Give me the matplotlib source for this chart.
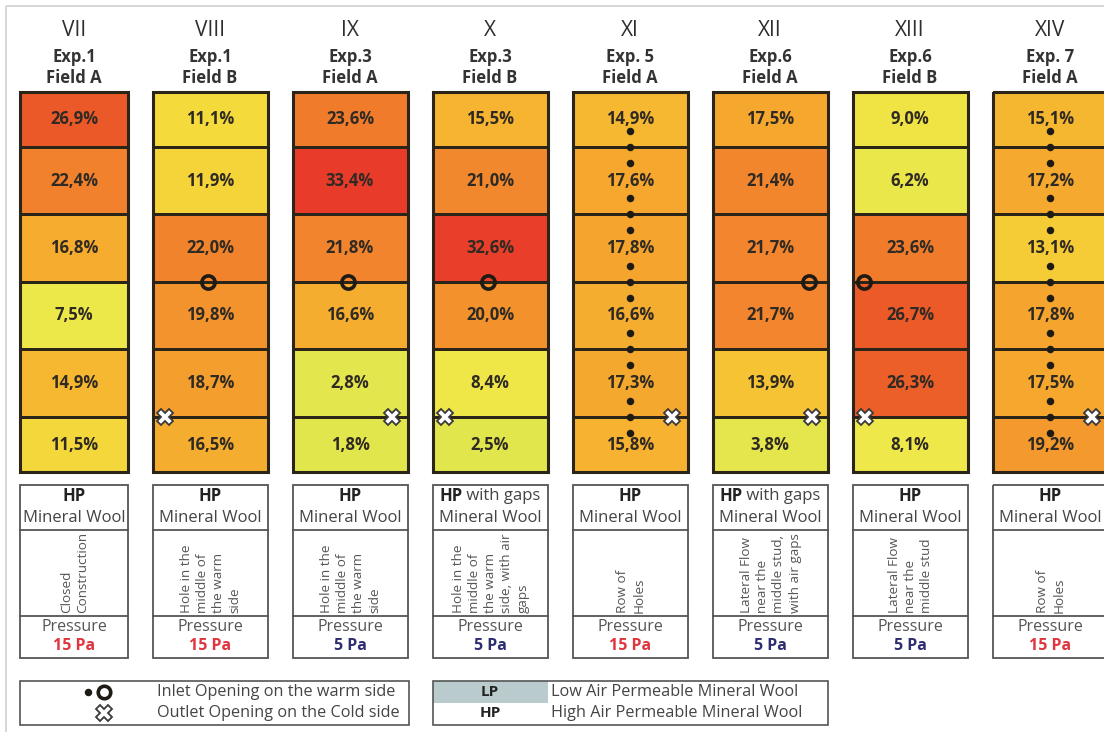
import matplotlib
matplotlib.use("Agg")
import matplotlib.pyplot as plt
import numpy as np
from matplotlib.colors import LinearSegmentedColormap
from matplotlib.patches import Rectangle

plt.rcParams['font.family'] = ['Open Sans', 'DejaVu Sans']

# ---- data -------------------------------------------------------------
numerals = ["VII", "VIII", "IX", "X", "XI", "XII", "XIII", "XIV"]
experiments = ["Exp.1", "Exp.1", "Exp.3", "Exp.3", "Exp. 5", "Exp.6", "Exp.6", "Exp. 7"]
fields = ["Field A", "Field B", "Field A", "Field B", "Field A", "Field A", "Field B", "Field A"]

# share of air flow per row (top to bottom), percent
shares = [
    [26.9, 22.4, 16.8, 7.5, 14.9, 11.5],
    [11.1, 11.9, 22.0, 19.8, 18.7, 16.5],
    [23.6, 33.4, 21.8, 16.6, 2.8, 1.8],
    [15.5, 21.0, 32.6, 20.0, 8.4, 2.5],
    [14.9, 17.6, 17.8, 16.6, 17.3, 15.8],
    [17.5, 21.4, 21.7, 21.7, 13.9, 3.8],
    [9.0, 6.2, 23.6, 26.7, 26.3, 8.1],
    [15.1, 17.2, 13.1, 17.8, 17.5, 19.2],
]

wool_with_gaps = [False, False, False, True, False, True, False, False]
setups = [
    "Closed\nConstruction",
    "Hole in the\nmiddle of\nthe warm\nside",
    "Hole in the\nmiddle of\nthe warm\nside",
    "Hole in the\nmiddle of\nthe warm\nside, with air\ngaps",
    "Row of\nHoles",
    "Lateral Flow\nnear the\nmiddle stud,\nwith air gaps",
    "Lateral Flow\nnear the\nmiddle stud",
    "Row of\nHoles",
]
pressures_pa = [15, 15, 5, 5, 15, 5, 5, 15]

# inlet on the warm side: None, single opening ('center'/'left'/'right') or a row of holes
inlets = [None, "center", "center", "center", "row", "right", "left", "row"]
# outlet on the cold side
outlets = [None, "left", "right", "left", "right", "right", "left", "right"]

# ---- layout -----------------------------------------------------------
W, H = 1104, 732
fig = plt.figure(figsize=(W / 100, H / 100), dpi=100)
ax = fig.add_axes([0, 0, 1, 1])
ax.set_xlim(0, W)
ax.set_ylim(H, 0)
ax.axis("off")

pitch = 140
col_w = 115
row_edges = np.array([92, 147, 214, 282, 349, 417, 472])
inlet_edge = 3
outlet_edge = 5

cmap = LinearSegmentedColormap.from_list(
    "flow",
    [(0 / 34, "#dde54e"), (8 / 34, "#eee84a"), (11 / 34, "#f4da3b"), (13 / 34, "#f5cd36"),
     (15 / 34, "#f6b730"), (18 / 34, "#f5a42e"), (21 / 34, "#f2882d"), (24 / 34, "#f07a2b"),
     (27 / 34, "#ec5828"), (34 / 34, "#e8392a")])

text_dark = "#2f2a24"
edge_dark = "#2b2418"
ink = "#1e1a14"

# outer frame of the page
ax.add_patch(Rectangle((6, 6), W + 20, H + 20, fill=False, ec="#cfcfcf", lw=1.2))

rnd = fig.canvas.get_renderer()

for i in range(len(numerals)):
    left = 13 + pitch * i
    right = left + col_w
    if i == 0:
        left = 20
    cx = 70 + pitch * i
    if i == 0:
        cx = (left + right) / 2

    # header
    ax.text(cx, 31, numerals[i], ha="center", va="center", fontsize=15, color="#2e2e2e")
    ax.text(cx, 57, experiments[i], ha="center", va="center", fontsize=12,
            fontweight="bold", color="#333333")
    ax.text(cx, 78, fields[i], ha="center", va="center", fontsize=12,
            fontweight="bold", color="#333333")

    # column of cells
    vals = np.array(shares[i])[:, None]
    ax.pcolormesh([left, right], row_edges, vals, cmap=cmap, vmin=0, vmax=34,
                  edgecolors=edge_dark, linewidth=1.0, zorder=1)
    ax.add_patch(Rectangle((left, row_edges[0]), right - left, row_edges[-1] - row_edges[0],
                           fill=False, ec=edge_dark, lw=2.2, zorder=2))
    for r, v in enumerate(shares[i]):
        yc = (row_edges[r] + row_edges[r + 1]) / 2
        ax.text(cx, yc, f"{v:.1f}%".replace(".", ","), ha="center", va="center",
                fontsize=12, fontweight="bold", color=text_dark, zorder=3)

    # inlet openings
    y_in = row_edges[inlet_edge]
    if inlets[i] == "row":
        ys = np.concatenate([[e - 16, e, e + 16] for e in row_edges[1:-1]])
        ax.plot(np.full(ys.shape, cx), ys, "o", ms=5.4, color=ink, mec="none", zorder=4)
    elif inlets[i] is not None:
        xi = {"center": cx - 2, "left": left + 11, "right": right - 19}[inlets[i]]
        ax.plot([xi], [y_in], "o", ms=9.5, mfc="none", mec=ink, mew=2.6, zorder=4)

    # outlet openings
    if outlets[i] is not None:
        xo = left + 12 if outlets[i] == "left" else right - 16
        ax.plot([xo], [row_edges[outlet_edge]], "X", ms=11.5, mfc="white", mec="#3a3a3a",
                mew=1.3, zorder=5)

    # description box
    bt, b1, b2, bb = 485, 530, 616, 658
    ax.add_patch(Rectangle((left, bt), right - left, bb - bt, fill=False, ec="#555555", lw=1.3))
    ax.plot([left, right], [b1, b1], color="#555555", lw=1.3)
    ax.plot([left, right], [b2, b2], color="#555555", lw=1.3)

    if wool_with_gaps[i]:
        t1 = ax.text(0, 496, "HP", ha="left", va="center", fontsize=12,
                     fontweight="bold", color="#222222")
        t2 = ax.text(0, 496, " with gaps", ha="left", va="center", fontsize=12,
                     color="#444444")
        w1 = t1.get_window_extent(rnd).width
        w2 = t2.get_window_extent(rnd).width
        x0 = cx - (w1 + w2) / 2
        t1.set_x(x0)
        t2.set_x(x0 + w1)
    else:
        ax.text(cx, 496, "HP", ha="center", va="center", fontsize=12,
                fontweight="bold", color="#222222")
    ax.text(cx, 518, "Mineral Wool", ha="center", va="center", fontsize=12, color="#444444")

    ax.text(cx + 1, 613, setups[i], rotation=90, ha="center", va="bottom",
            multialignment="left", linespacing=1.3, fontsize=9.7, color="#555555")

    ax.text(cx, 627, "Pressure", ha="center", va="center", fontsize=11.5, color="#555555")
    pcol = "#e0353f" if pressures_pa[i] == 15 else "#2d2d72"
    ax.text(cx, 646, f"{pressures_pa[i]} Pa", ha="center", va="center", fontsize=11.5,
            fontweight="bold", color=pcol)

# ---- legends ----------------------------------------------------------
ax.add_patch(Rectangle((20, 681), 389, 44, fill=False, ec="#555555", lw=1.2))
ax.plot([88], [692], "o", ms=5.4, color=ink, mec="none")
ax.plot([104], [692], "o", ms=9, mfc="none", mec=ink, mew=2.6)
ax.plot([104], [713], "X", ms=11.5, mfc="white", mec="#3a3a3a", mew=1.3)
ax.text(157, 692, "Inlet Opening on the warm side", ha="left", va="center",
        fontsize=11.7, color="#444444")
ax.text(157, 713, "Outlet Opening on the Cold side", ha="left", va="center",
        fontsize=11.7, color="#444444")

ax.add_patch(Rectangle((433, 681), 115, 22, color="#b9cbcd", lw=0))
ax.add_patch(Rectangle((433, 681), 395, 44, fill=False, ec="#555555", lw=1.2))
ax.text(490, 692, "LP", ha="center", va="center", fontsize=11, fontweight="bold", color="#222222")
ax.text(490, 713, "HP", ha="center", va="center", fontsize=11, fontweight="bold", color="#222222")
ax.text(551, 692, "Low Air Permeable Mineral Wool", ha="left", va="center",
        fontsize=11.7, color="#444444")
ax.text(551, 713, "High Air Permeable Mineral Wool", ha="left", va="center",
        fontsize=11.7, color="#444444")

fig.savefig("out.png", dpi=100)
